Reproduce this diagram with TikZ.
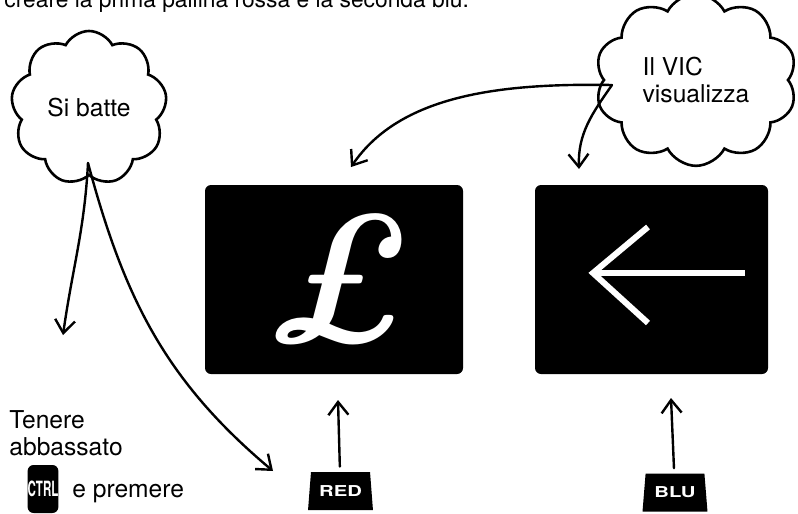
\documentclass[tikz,border=0pt]{standalone}
\usepackage{fontspec}
\usepackage{graphicx}
\newfontfamily\helv{TeX Gyre Heros}
\usetikzlibrary{arrows.meta,positioning,shapes.geometric,shapes.symbols}

\begin{document}
\begin{tikzpicture}[
  x=0.5pt,y=0.5pt,
  txt/.style={font=\helv\fontsize{12.3}{13.5}\selectfont,inner sep=0pt,align=left},
  bubble/.style={cloud,draw,line width=1.3pt,cloud puff arc=125,txt},
  screen/.style={fill=black,rounded corners=3pt,minimum height=94.5pt,inner sep=0pt},
  keycap/.style={trapezium,fill=black,text=white,trapezium left angle=79,
    trapezium right angle=79,trapezium stretches=true,minimum width=32.5pt,
    minimum height=19pt,inner sep=0pt,font=\helv\bfseries\fontsize{7.5}{8}\selectfont},
  sketch/.style={-{Straight Barb[length=6.5pt,width=10pt]},line width=1.2pt,line cap=round}
]
\useasboundingbox (0,0) rectangle (798,-514);
\clip (0,0) rectangle (798,-514);
% line of text cut by the top edge
\node[txt,font=\helv\fontsize{11.4}{13}\selectfont,anchor=base west] (intro) at (4,-7)
  {creare la prima pallina rossa e la seconda blu.};

% thought clouds
\node[bubble,cloud puffs=9,minimum width=78pt,minimum height=77pt] (batte) at (89,-108) {Si batte};
\node[bubble,cloud puffs=10,minimum width=101pt,minimum height=78pt] (vic) at (696,-80) {Il VIC\\visualizza};
\coordinate (battetail) at (88,-163);
\coordinate (victail) at (612,-85);

% the two screens
\node[screen,minimum width=129pt] (redscreen) at (334,-279.5) {};
\node[screen,minimum width=116.5pt] (bluscreen) at (651.5,-279.5) {};
\node[text=white,font=\bfseries\itshape\fontsize{92}{92}\selectfont] (pound) at (337,-279) {£};
\begin{scope}[shift={(bluscreen.center)},white,line width=3pt]
  \draw[line join=miter] (-3.5,52.5) -- (-58.5,6.5) -- (-3.5,-43.5);
  \draw (-56,6.5) -- (93.5,6.5);
\end{scope}

% keys
\node[keycap] (redkey) at (340.5,-491) {\scalebox{1.35}[1]{RED}};
\node[keycap] (blukey) at (675,-492.5) {\scalebox{1.35}[1]{BLU}};
\node[fill=black,rounded corners=3pt,minimum width=15pt,minimum height=24pt,inner sep=0pt,
  text=white,font=\helv\bfseries\fontsize{10.5}{10.5}\selectfont] (ctrl) at (43,-489)
  {\scalebox{0.55}[1]{CTRL}};
\node[txt,anchor=base west] (hold) at (9,-455) {Tenere\\abbassato};
\node[txt,anchor=base west] (press) at (72,-497) {e premere};

% connectors
\coordinate (dropend) at (63,-335);
\coordinate (redkeyin) at (273,-471);
\coordinate (redtop) at (351,-167);
\coordinate (blutop) at (579,-169);
\coordinate (redup) at (338,-400);
\coordinate (bluup) at (671,-398);
\draw[sketch] (battetail) to[out=-93,in=82] (dropend);
\draw[sketch] (battetail) to[out=-75,in=140] (redkeyin);
\draw[sketch] (victail) .. controls (500,-83) and (400,-95) .. (redtop);
\draw[sketch] (victail) to[out=-125,in=92] (blutop);
\draw[sketch,shorten <=2.5pt] (redkey) -- (redup);
\draw[sketch,shorten <=2.5pt] (blukey) -- (bluup);
\end{tikzpicture}
\end{document}
